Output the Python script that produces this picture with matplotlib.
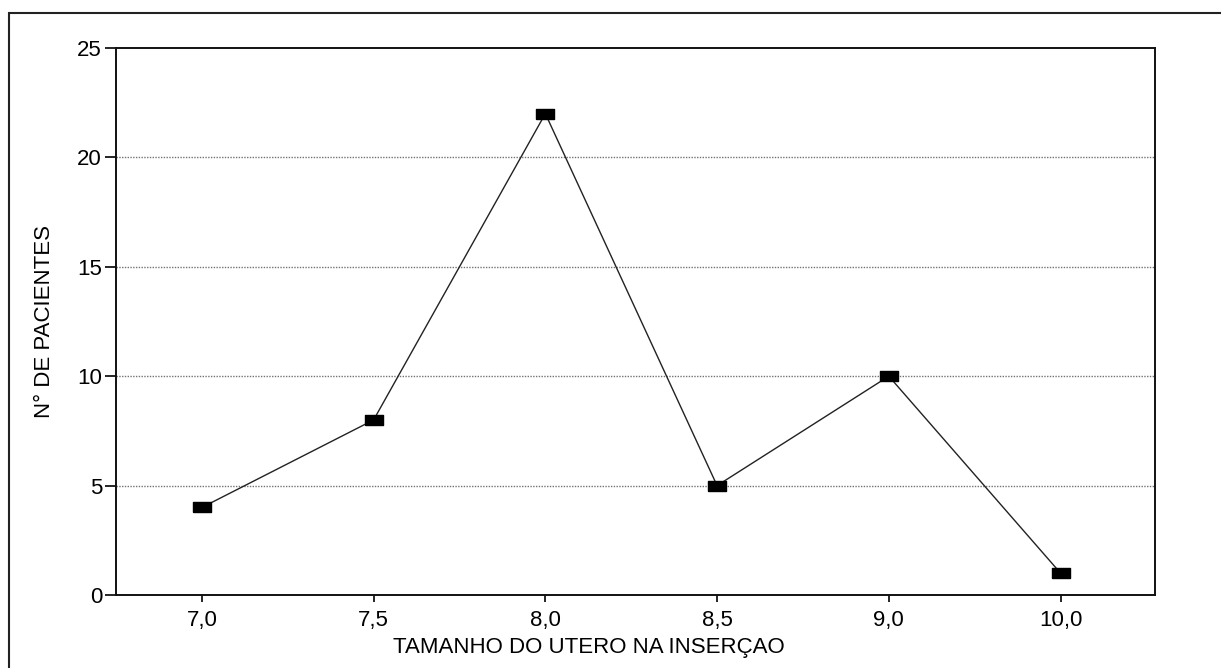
import matplotlib.pyplot as plt
from matplotlib.patches import Rectangle

# data
sizes = ["7,0", "7,5", "8,0", "8,5", "9,0", "10,0"]
patients = [4, 8, 22, 5, 10, 1]
y_ticks = [0, 5, 10, 15, 20, 25]

plt.rcParams['font.family'] = ['Liberation Sans', 'DejaVu Sans']

fig = plt.figure(figsize=(12.21, 6.68), dpi=100)
ax = fig.add_axes([116 / 1221, 1 - 595 / 668, (1155 - 116) / 1221, (595 - 48) / 668])

# outer frame of the original figure (left and top edges only show)
fig.patches.append(Rectangle((9 / 1221, -0.1), 1.1, 1.1 - 13 / 668,
                             transform=fig.transFigure, fill=False,
                             edgecolor='#222222', linewidth=1.5, zorder=0))

x = list(range(len(sizes)))
rect = [(-1, -0.5), (1, -0.5), (1, 0.5), (-1, 0.5), (-1, -0.5)]
ax.plot(x, patients, color='#222222', linewidth=1.0,
        marker=rect, markersize=13.5, markerfacecolor='black',
        markeredgecolor='black', zorder=3)

ax.set_xlim(-0.5, len(sizes) - 0.45)
ax.set_ylim(0, 25)
ax.set_xticks(x)
ax.set_xticklabels(sizes)
ax.set_yticks(y_ticks)
ax.set_yticklabels([str(v) for v in y_ticks])

for v in y_ticks[1:-1]:
    ax.axhline(v, color='0.45', linewidth=1.0, linestyle=(0, (1, 1)), zorder=1)

for s in ax.spines.values():
    s.set_linewidth(1.4)
    s.set_color('#111111')

ax.tick_params(axis='y', length=8, width=1.2, labelsize=16, pad=2)
ax.tick_params(axis='x', length=5, width=1.2, labelsize=16, pad=6)

fig.text(589 / 1221, 1 - 648 / 668, "TAMANHO DO UTERO NA INSERÇAO",
         ha='center', va='center', fontsize=16)
fig.text(45 / 1221, 1 - 321 / 668, "N° DE PACIENTES", rotation=90,
         ha='center', va='center', fontsize=16)

fig.savefig("out.png", dpi=100)
